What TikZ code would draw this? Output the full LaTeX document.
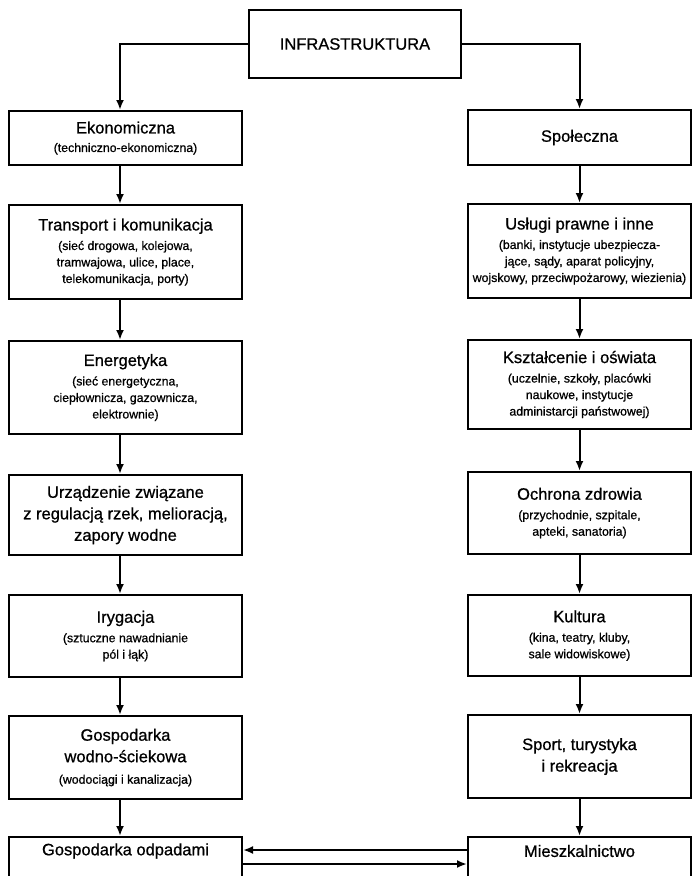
\documentclass[tikz,border=0pt]{standalone}
\usepackage{fontspec}
\setmainfont{Liberation Sans}[FakeBold=0.8]
\usetikzlibrary{arrows.meta}
\newcommand{\ti}[1]{{\fontsize{16.5}{20}\selectfont #1}}
\begin{document}
\begin{tikzpicture}[x=1pt,y=-1pt,
  box/.style={draw, line width=2pt, align=center, inner sep=2pt,
    font=\fontsize{12.3}{16.5}\selectfont},
  lbox/.style={box, minimum width=233},
  rbox/.style={box, minimum width=223},
  ttl/.style={font=\fontsize{16.5}{20}\selectfont, inner sep=0pt},
  arr/.style={line width=2pt, -{Latex[length=10pt,width=8pt]}},
]
\path[use as bounding box, clip] (0,0) rectangle (692,876);

\node[box, minimum width=212, minimum height=68] (inf) at (355,44) {\ti{INFRASTRUKTURA}};

% left column
\node[lbox, minimum height=54] (ek) at (125.5,138) {\ti{Ekonomiczna}\\[2pt](techniczno-ekonomiczna)};
\node[lbox, minimum height=94] (tr) at (125.5,252) {\ti{Transport i komunikacja}\\[3pt](sieć drogowa, kolejowa,\\tramwajowa, ulice, place,\\telekomunikacja, porty)};
\node[lbox, minimum height=93] (en) at (125.5,387.5) {\ti{Energetyka}\\[3pt](sieć energetyczna,\\ciepłownicza, gazownicza,\\elektrownie)};
\node[lbox, minimum height=80] (ur) at (125.5,515) {\ti{Urządzenie związane}\\[5pt]\ti{z regulacją rzek, melioracją,}\\[5pt]\ti{zapory wodne}};
\node[lbox, minimum height=82] (ir) at (125.5,636) {\ti{Irygacja}\\[3pt](sztuczne nawadnianie\\pól i łąk)};
\node[lbox, minimum height=83] (gw) at (125.5,757.5) {\ti{Gospodarka}\\[5pt]\ti{wodno-ściekowa}\\[5pt](wodociągi i kanalizacja)};
\node[lbox, minimum height=70, anchor=north] (od) at (125.5,836) {};
\node[ttl] (odt) at (125.5,851) {Gospodarka odpadami};

% right column
\node[rbox, minimum height=55] (sp) at (579.5,137.5) {\ti{Społeczna}};
\node[rbox, minimum height=94] (us) at (579.5,251) {\ti{Usługi prawne i inne}\\[3pt](banki, instytucje ubezpiecza-\\jące, sądy, aparat policyjny,\\wojskowy, przeciwpożarowy, wiezienia)};
\node[rbox, minimum height=89] (ks) at (579.5,384.5) {\ti{Kształcenie i oświata}\\[3pt](uczelnie, szkoły, placówki\\naukowe, instytucje\\administarcji państwowej)};
\node[rbox, minimum height=82] (oc) at (579.5,513) {\ti{Ochrona zdrowia}\\[3pt](przychodnie, szpitale,\\apteki, sanatoria)};
\node[rbox, minimum height=81] (ku) at (579.5,635.5) {\ti{Kultura}\\[3pt](kina, teatry, kluby,\\sale widowiskowe)};
\node[rbox, minimum height=83] (sr) at (579.5,756.5) {\ti{Sport, turystyka}\\[5pt]\ti{i rekreacja}};
\node[rbox, minimum height=70, anchor=north] (mi) at (579.5,836) {};
\node[ttl] (mit) at (579.5,851) {Mieszkalnictwo};

% connectors
\coordinate (lx) at (120,0);
\coordinate (ya) at (0,850);
\coordinate (yb) at (0,864);
\draw[arr] (inf.west) -| (ek.north -| lx);
\draw[arr] (inf.east) -| (sp.north);
\foreach \a/\b in {ek/tr, tr/en, en/ur, ur/ir, ir/gw, gw/od}
  \draw[arr] (\a.south -| lx) -- (\b.north -| lx);
\foreach \a/\b in {sp/us, us/ks, ks/oc, oc/ku, ku/sr, sr/mi}
  \draw[arr] (\a.south) -- (\b.north);
\draw[arr] (mi.west |- ya) -- (od.east |- ya);
\draw[arr] (od.east |- yb) -- (mi.west |- yb);
\end{tikzpicture}
\end{document}
